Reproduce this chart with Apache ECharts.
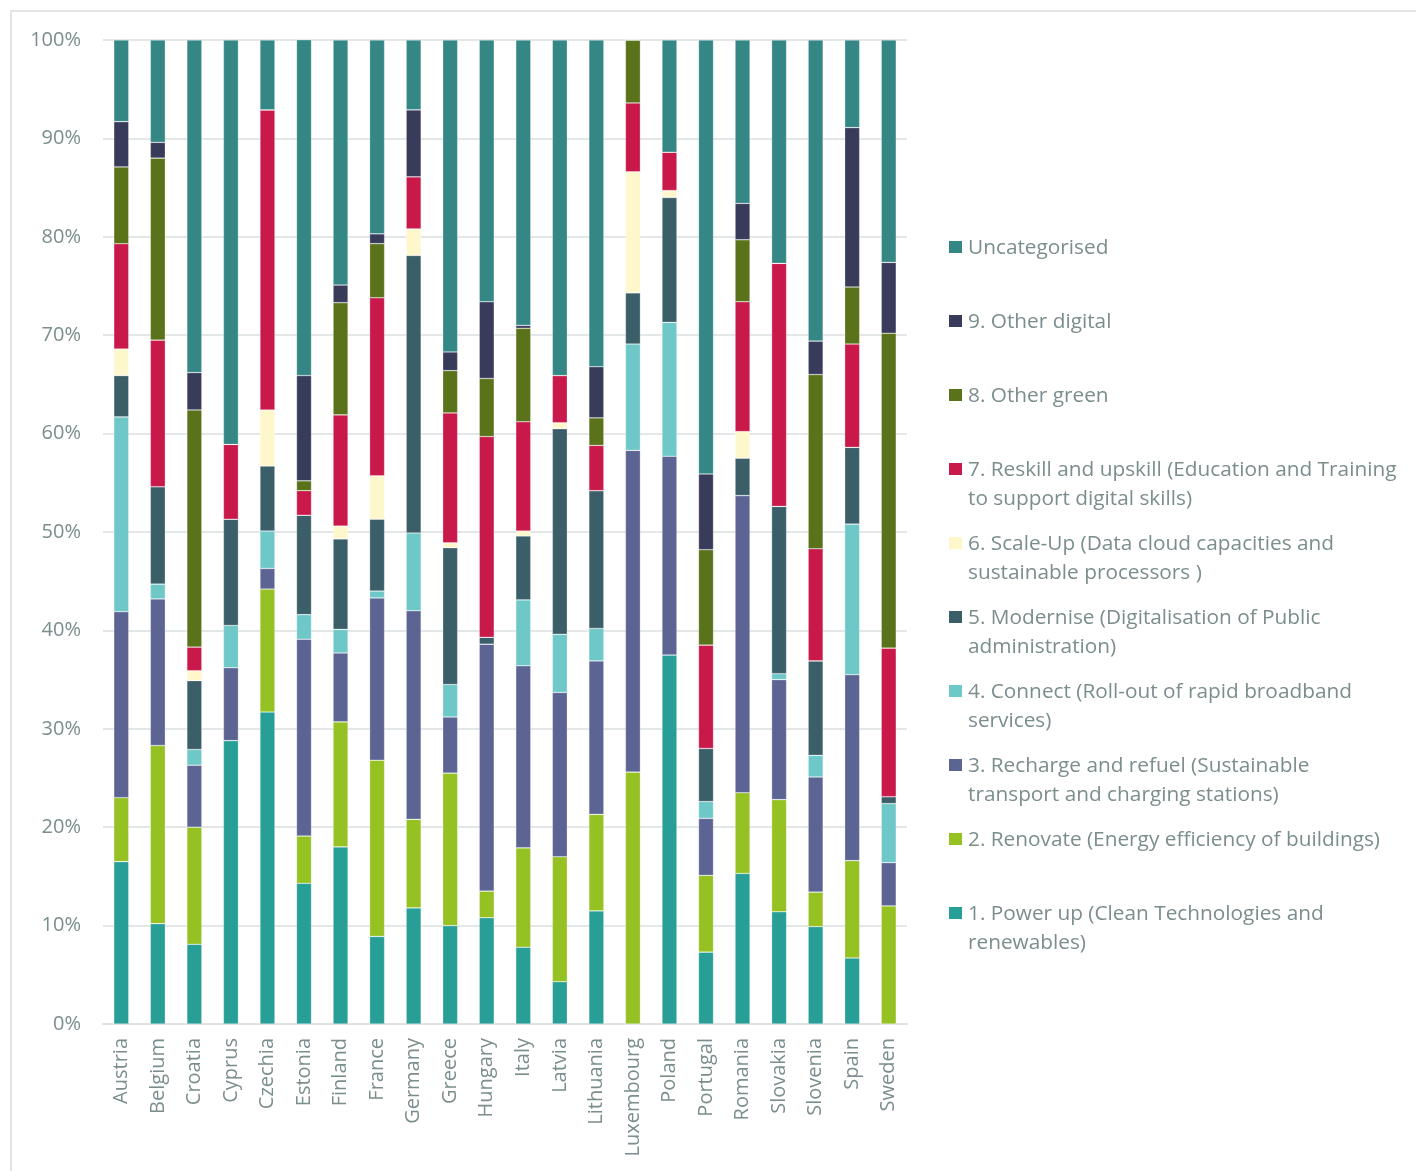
<!DOCTYPE html>
<html>
<head>
<meta charset="utf-8">
<style>
html,body{margin:0;padding:0;background:#fff;}
#chart{width:1416px;height:1171px;}
</style>
<script src="https://cdn.jsdelivr.net/npm/echarts@6/dist/echarts.min.js"></script>
</head>
<body>
<div id="chart"></div>
<script>
const countries = ['Austria','Belgium','Croatia','Cyprus','Czechia','Estonia','Finland','France','Germany','Greece','Hungary','Italy','Latvia','Lithuania','Luxembourg','Poland','Portugal','Romania','Slovakia','Slovenia','Spain','Sweden'];

const powerUp      = [16.5,10.2,8.1,28.8,31.7,14.3,18.0,8.9,11.8,10.0,10.8,7.8,4.3,11.5,0,37.5,7.3,15.3,11.4,9.9,6.7,0];
const renovate     = [6.5,18.1,11.9,0,12.5,4.8,12.7,17.9,9.0,15.5,2.7,10.1,12.7,9.8,25.6,0,7.8,8.2,11.4,3.5,9.9,12.0];
const recharge     = [18.9,14.9,6.3,7.4,2.1,20.0,7.0,16.5,21.2,5.7,25.1,18.5,16.7,15.6,32.7,20.2,5.8,30.2,12.2,11.7,18.9,4.4];
const connect      = [19.8,1.5,1.6,4.3,3.8,2.5,2.4,0.7,7.9,3.3,0,6.7,5.9,3.3,10.8,13.6,1.7,0,0.6,2.2,15.3,6.0];
const modernise    = [4.2,9.9,7.0,10.8,6.6,10.1,9.2,7.3,28.2,13.9,0.7,6.5,20.9,14.0,5.2,12.7,5.4,3.8,17.0,9.6,7.8,0.7];
const scaleUp      = [2.7,0,1.0,0,5.7,0,1.3,4.4,2.7,0.5,0,0.5,0.6,0,12.3,0.7,0,2.7,0,0,0,0];
const reskill      = [10.7,14.9,2.4,7.6,30.5,2.5,11.3,18.1,5.3,13.2,20.4,11.1,4.8,4.6,7.0,3.9,10.5,13.2,24.7,11.4,10.5,15.1];
const otherGreen   = [7.8,18.5,24.1,0,0,1.0,11.4,5.5,0,4.3,5.9,9.5,0,2.8,6.4,0,9.7,6.3,0,17.7,5.8,32.0];
const otherDigital = [4.6,1.6,3.8,0,0,10.7,1.8,1.0,6.8,1.9,7.8,0.3,0,5.2,0,0,7.7,3.7,0,3.4,16.2,7.2];
const uncategorised= [8.3,10.4,33.8,41.1,7.1,34.3,24.9,19.7,7.1,31.7,26.6,29.0,34.1,33.2,0,11.4,44.1,16.6,22.7,30.6,8.9,22.6];

const seriesNames = [
  '1. Power up (Clean Technologies and renewables)',
  '2. Renovate (Energy efficiency of buildings)',
  '3. Recharge and refuel (Sustainable transport and charging stations)',
  '4. Connect (Roll-out of rapid broadband services)',
  '5. Modernise (Digitalisation of Public administration)',
  '6. Scale-Up (Data cloud capacities and sustainable processors )',
  '7. Reskill and upskill (Education and Training to support digital skills)',
  '8. Other green',
  '9. Other digital',
  'Uncategorised'
];
const legendLabels = [
  '1. Power up (Clean Technologies and\nrenewables)',
  '2. Renovate (Energy efficiency of buildings)',
  '3. Recharge and refuel (Sustainable\ntransport and charging stations)',
  '4. Connect (Roll-out of rapid broadband\nservices)',
  '5. Modernise (Digitalisation of Public\nadministration)',
  '6. Scale-Up (Data cloud capacities and\nsustainable processors )',
  '7. Reskill and upskill (Education and Training\nto support digital skills)',
  '8. Other green',
  '9. Other digital',
  'Uncategorised'
];
const seriesData = [powerUp, renovate, recharge, connect, modernise, scaleUp, reskill, otherGreen, otherDigital, uncategorised];
const colors = ['#279E96','#95C123','#5C6494','#6EC8C8','#3B5F69','#FFF7CC','#C8194A','#5A7219','#383C5A','#348785'];
const yTicks = [0,10,20,30,40,50,60,70,80,90,100];

const textColor = '#7B8D8D';
const fontFamily = 'Open Sans';

const series = seriesData.map((d, i) => ({
  name: seriesNames[i],
  type: 'bar',
  stack: 'total',
  barWidth: 15,
  data: d,
  itemStyle: { color: colors[i], borderColor: 'rgba(255,255,255,0.45)', borderWidth: 0.6 },
  emphasis: { disabled: true }
}));

// custom legend (icons aligned to first text line), top entry = last series
const graphic = [{
  type: 'rect',
  shape: { x: 11, y: 11, width: 1430, height: 1190 },
  style: { fill: 'none', stroke: '#DADDDD', lineWidth: 1.5 },
  silent: true
}];
const rowTop = 247, rowGap = 74;
for (let k = 0; k < seriesNames.length; k++) {
  const i = seriesNames.length - 1 - k;
  const cy = rowTop + k * rowGap;
  graphic.push({
    type: 'rect',
    shape: { x: 949, y: cy - 6, width: 13, height: 12 },
    style: { fill: colors[i] },
    silent: true
  });
  graphic.push({
    type: 'text',
    x: 968, y: cy - 13,
    style: {
      text: legendLabels[i],
      fill: textColor,
      font: '20.8px "' + fontFamily + '"',
      lineHeight: 29,
      verticalAlign: 'top',
      align: 'left'
    },
    silent: true
  });
}

const chart = echarts.init(document.getElementById('chart'), null, { renderer: 'canvas' });
chart.setOption({
  animation: false,
  backgroundColor: '#fff',
  textStyle: { fontFamily: fontFamily },
  grid: { left: 103, right: 509, top: 40, bottom: 147, containLabel: false },
  xAxis: {
    type: 'category',
    data: countries,
    axisTick: { show: false },
    axisLine: { lineStyle: { color: '#DDE2E2', width: 2 } },
    axisLabel: { rotate: 90, color: textColor, fontSize: 20, margin: 14, fontFamily: fontFamily }
  },
  yAxis: {
    type: 'value',
    min: yTicks[0],
    max: yTicks[yTicks.length - 1],
    interval: 10,
    axisLine: { show: false },
    axisTick: { show: false },
    splitLine: { lineStyle: { color: '#E3E7E7', width: 2 } },
    axisLabel: { formatter: '{value}%', color: textColor, fontSize: 20, margin: 22, fontFamily: fontFamily }
  },
  series: series,
  graphic: graphic
});
</script>
</body>
</html>
